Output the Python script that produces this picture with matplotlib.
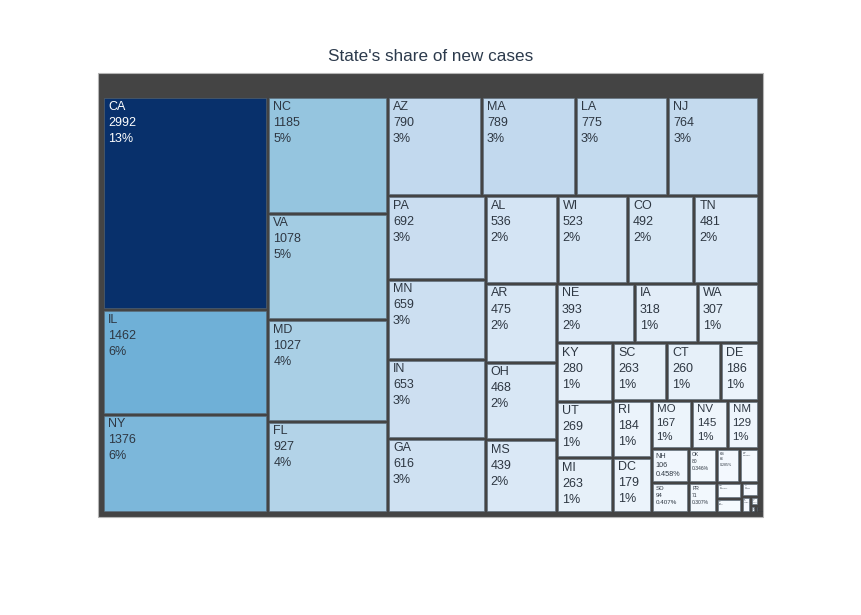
import matplotlib.pyplot as plt
from matplotlib.patches import Rectangle
from matplotlib.colors import LinearSegmentedColormap, to_rgb

# data (new cases by state)
states = ['CA', 'IL', 'NY', 'NC', 'VA', 'MD', 'FL', 'AZ', 'MA', 'LA', 'NJ',
          'PA', 'MN', 'IN', 'GA', 'AL', 'WI', 'CO', 'TN', 'AR', 'OH', 'MS',
          'NE', 'IA', 'WA', 'KY', 'UT', 'MI', 'SC', 'CT', 'DE', 'RI', 'DC',
          'MO', 'NV', 'NM', 'NH', 'SD', 'OK', 'PR', 'KS', 'OR', 'WV', 'ME',
          'ID', 'HI', 'VT', 'AK', 'WY']
cases = [2992, 1462, 1376, 1185, 1078, 1027, 927, 790, 789, 775, 764,
         692, 659, 653, 616, 536, 523, 492, 481, 475, 468, 439,
         393, 318, 307, 280, 269, 263, 263, 260, 186, 184, 179,
         167, 145, 129, 106, 94, 80, 71, 66, 54, 35, 30,
         20, 12, 6, 3, 2]

title = "State's share of new cases"

# plotly "Blues" colorscale
blues = LinearSegmentedColormap.from_list('plotly_blues', [
    (0.0, (247/255, 251/255, 255/255)),
    (0.125, (222/255, 235/255, 247/255)),
    (0.25, (198/255, 219/255, 239/255)),
    (0.375, (158/255, 202/255, 225/255)),
    (0.5, (107/255, 174/255, 214/255)),
    (0.625, (66/255, 146/255, 198/255)),
    (0.75, (33/255, 113/255, 181/255)),
    (0.875, (8/255, 81/255, 156/255)),
    (1.0, (8/255, 48/255, 107/255)),
])


def squarify(values, x0, y0, x1, y1, ratio=1.0):
    # same idea as d3.treemapSquarify
    rects = []
    value = float(sum(values))
    n = len(values)
    i0 = 0
    while i0 < n:
        dx, dy = x1 - x0, y1 - y0
        i1 = i0
        s = values[i1]
        i1 += 1
        vmin = vmax = s
        alpha = max(dy / dx, dx / dy) / (value * ratio)
        beta = s * s * alpha
        min_ratio = max(vmax / beta, beta / vmin)
        while i1 < n:
            v = values[i1]
            s += v
            vmin = min(vmin, v)
            vmax = max(vmax, v)
            beta = s * s * alpha
            new_ratio = max(vmax / beta, beta / vmin)
            if new_ratio > min_ratio:
                s -= v
                break
            min_ratio = new_ratio
            i1 += 1
        row = values[i0:i1]
        if dx < dy:
            ny = y0 + dy * s / value
            cx = x0
            for v in row:
                w = dx * v / s
                rects.append((cx, y0, cx + w, ny))
                cx += w
            y0 = ny
        else:
            nx = x0 + dx * s / value
            cy = y0
            for v in row:
                h = dy * v / s
                rects.append((x0, cy, nx, cy + h))
                cy += h
            x0 = nx
        value -= s
        i0 = i1
    return rects


def fmt_pct(frac):
    p = frac * 100
    if round(p) >= 1:
        return f'{round(p):.0f}%'
    return f'{p:.3g}%'


fig = plt.figure(figsize=(8.61, 6.15), dpi=100)
ax = fig.add_axes([0, 0, 1, 1])
ax.set_xlim(0, 861)
ax.set_ylim(615, 0)
ax.axis('off')

ax.text(431, 61, title, ha='center', va='baseline', fontsize=12.3,
        color='#2c3a4c', family='Liberation Sans')

# root tile
ax.add_patch(Rectangle((98, 73), 664.5, 443.5, facecolor='#444444',
                       edgecolor='#b5b5b5', lw=0.8))

total = sum(cases)
vmax = max(cases)
pad = 1.5
rects = squarify(cases, 102.5, 96.5, 758.5, 512.5)

renderer = fig.canvas.get_renderer()
base_pt = 9.0

for name, v, (x0, y0, x1, y1) in zip(states, cases, rects):
    x0, y0, x1, y1 = x0 + pad, y0 + pad, x1 - pad, y1 - pad
    c = blues(v / vmax)
    ax.add_patch(Rectangle((x0, y0), x1 - x0, y1 - y0, facecolor=c,
                           edgecolor='#5a6a78', lw=0.4))
    r, g, b = to_rgb(c)
    lum = 0.299 * r + 0.587 * g + 0.114 * b
    tcolor = 'white' if lum < 0.5 else '#2e3742'
    label = f'{name}\n{v}\n{fmt_pct(v / total)}'
    t = ax.text(x0 + 4, y0 + 2.5, label, ha='left', va='top',
                fontsize=base_pt, color=tcolor, linespacing=1.45,
                family='Liberation Sans')
    bb = t.get_window_extent(renderer)
    avail_w = (x1 - x0) - 8
    avail_h = (y1 - y0) - 5
    scale = min(1.0, avail_w / bb.width, avail_h / bb.height)
    if scale < 1.0:
        fs = base_pt * max(scale, 0.05)
        t.set_fontsize(fs)
        px = fs / 0.72
        t.set_position((x0 + min(4, 0.3 * px + 1), y0 + min(2.5, 0.2 * px + 1)))

fig.savefig('out.png', dpi=100)
